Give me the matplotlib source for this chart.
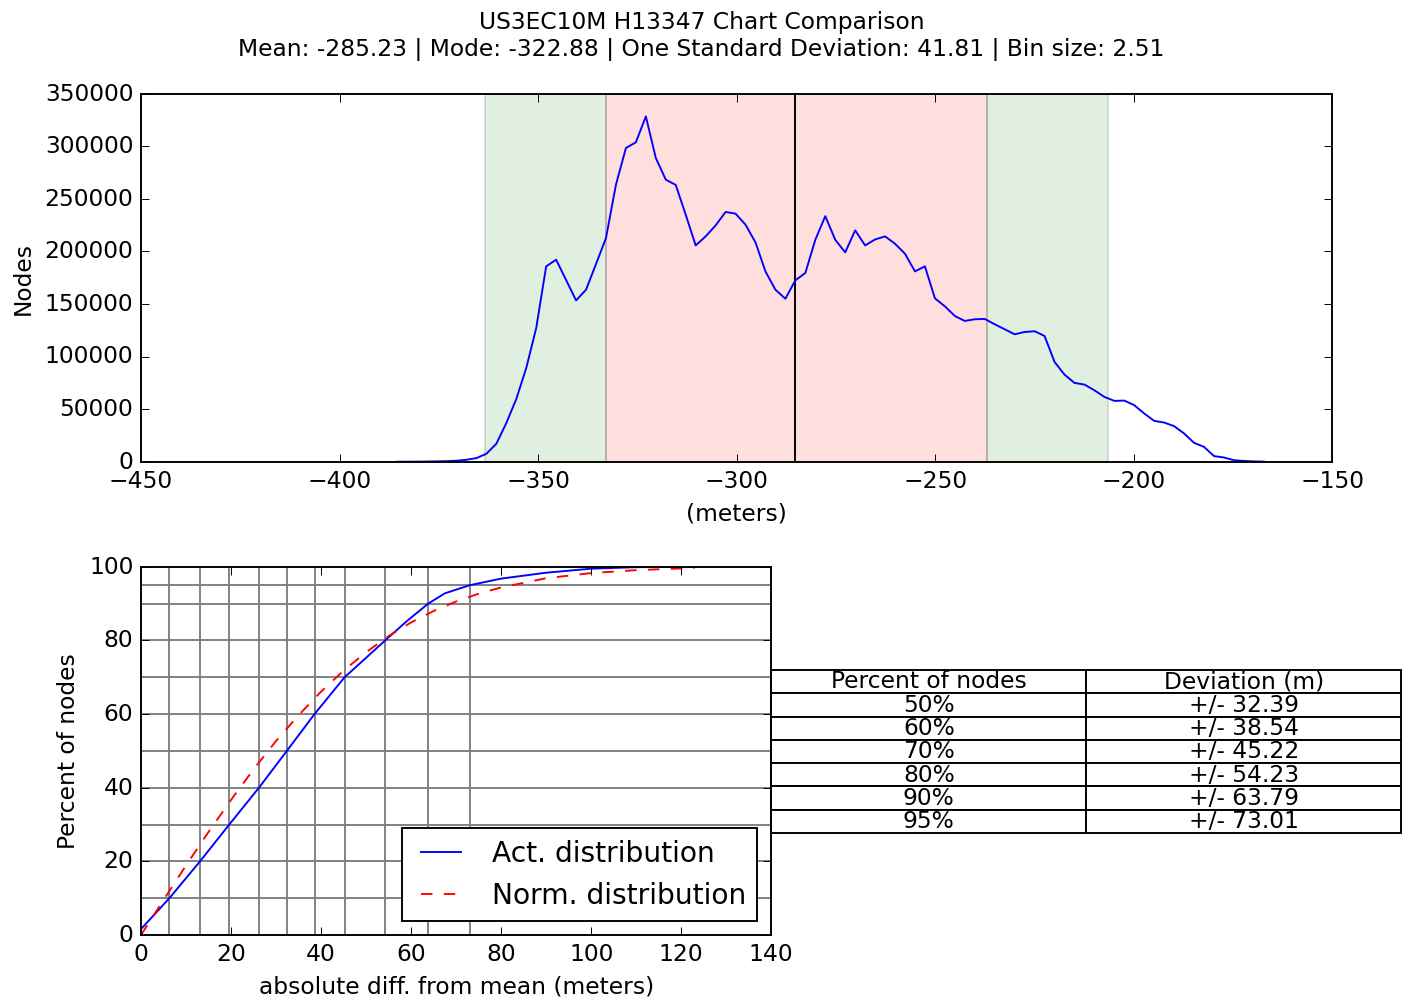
import numpy as np
import matplotlib
matplotlib.use("Agg")
import matplotlib.pyplot as plt

plt.style.use("classic")
plt.rcParams["font.size"] = 12.3

# ---------------- data ----------------
mean_val = -285.23
mode_val = -322.88
std_val = 41.81
bin_size = 2.51
first_bin = -385.63
counts = [50, 100, 150, 250, 400, 600, 1000, 1900, 3500, 7600,
          17100, 36800, 59600, 89100, 127100, 185800, 192100, 172800, 153400, 163600,
          188000, 212700, 263400, 298300, 303700, 328400, 288800, 268200, 263200, 234900,
          205700, 214300, 224700, 237500, 235900, 225400, 208600, 181000, 163600, 155000,
          172500, 179500, 211000, 233500, 211100, 199100, 220000, 205700, 211400, 214300,
          207300, 197800, 181000, 185800, 155400, 147800, 138600, 133900, 135500, 135800,
          130700, 126000, 121200, 123400, 124100, 119600, 95000, 82900, 75000, 73400,
          68000, 61700, 57900, 58200, 53800, 45900, 38900, 37300, 33900, 26900,
          18000, 14200, 5400, 4100, 1500, 800, 400, 150]
bins = first_bin + bin_size * np.arange(len(counts))

inner_band = (-333.0, -237.0)
outer_band_left = (-363.5, -333.0)
outer_band_right = (-237.0, -206.5)

pct_levels = [10, 20, 30, 40, 50, 60, 70, 80, 90, 95]
pct_devs = [6.3, 13.1, 19.6, 26.2, 32.39, 38.54, 45.22, 54.23, 63.79, 73.01]

act_x = [0, 6.3, 13.1, 19.6, 26.2, 32.39, 38.54, 45.22, 50.0, 54.23, 59.0, 63.79,
         67.5, 73.01, 80, 90, 100, 110, 118, 123]
act_y = [1.6, 10, 20, 30, 40, 50, 60, 70, 75.3, 80, 85.2, 90,
         92.8, 95, 96.8, 98.4, 99.5, 99.9, 100, 100]

norm_x = [0, 5, 10, 15, 20, 25, 30, 35, 40, 45, 50, 55, 60, 65, 70, 75, 80, 90, 100, 110, 123]
norm_y = [0, 9.5, 18.9, 28.0, 36.7, 45.0, 52.7, 59.7, 66.1, 71.8, 76.8, 81.2, 84.9, 88.0,
          90.6, 92.7, 94.4, 96.9, 98.3, 99.1, 99.7]

table_pcts = ["50%", "60%", "70%", "80%", "90%", "95%"]
table_devs = ["+/- 32.39", "+/- 38.54", "+/- 45.22", "+/- 54.23", "+/- 63.79", "+/- 73.01"]
col_labels = ["Percent of nodes", "Deviation (m)"]

# ---------------- figure ----------------
dpi = 137
fig = plt.figure(figsize=(1414.4 / dpi, 1002.4 / dpi), dpi=dpi, facecolor="white")

fig.suptitle("US3EC10M H13347 Chart Comparison\n"
             "Mean: %.2f | Mode: %.2f | One Standard Deviation: %.2f | Bin size: %.2f"
             % (mean_val, mode_val, std_val, bin_size),
             x=0.496, y=0.989, va="top", fontsize=12.3)

ax1 = fig.add_axes([141 / 1414, 1 - 462 / 1002, 1191 / 1414, 368 / 1002])
ax1.axvspan(*outer_band_left, facecolor="g", edgecolor="k", alpha=0.12)
ax1.axvspan(*outer_band_right, facecolor="g", edgecolor="k", alpha=0.12)
ax1.axvspan(*inner_band, facecolor="r", edgecolor="k", alpha=0.13)
ax1.axvline(mean_val, color="k")
ax1.plot(bins, counts, color="b")
ax1.set_xlim(-450, -150)
ax1.set_ylim(0, 350000)
ax1.set_xticks(np.arange(-450, -149, 50))
ax1.set_yticks(np.arange(0, 350001, 50000))
ax1.set_xlabel("(meters)")
ax1.set_ylabel("Nodes")

ax2 = fig.add_axes([141 / 1414, 1 - 935 / 1002, 630 / 1414, 368 / 1002])
for lvl in pct_levels:
    ax2.axhline(lvl, color="gray", linewidth=1.0)
for dv in pct_devs:
    ax2.axvline(dv, color="gray", linewidth=1.0)
ax2.plot(act_x, act_y, color="b", label="Act. distribution")
ax2.plot(norm_x, norm_y, "r--", label="Norm. distribution")
ax2.set_xlim(0, 140)
ax2.set_ylim(0, 100)
ax2.set_xlabel("absolute diff. from mean (meters)")
ax2.set_ylabel("Percent of nodes")
ax2.legend(loc="lower right")

cell_text = [[p, d] for p, d in zip(table_pcts, table_devs)]
tbl = ax2.table(cellText=cell_text, colLabels=col_labels, cellLoc="center",
                bbox=[1.0, 0.277, 1.0, 0.443])
tbl.auto_set_font_size(False)
tbl.set_fontsize(12.3)
for cell in tbl.get_celld().values():
    cell.set_edgecolor("black")
    cell.set_facecolor("white")
    cell.PAD = 0.02

fig.savefig("out.png", dpi=dpi, facecolor="white")
